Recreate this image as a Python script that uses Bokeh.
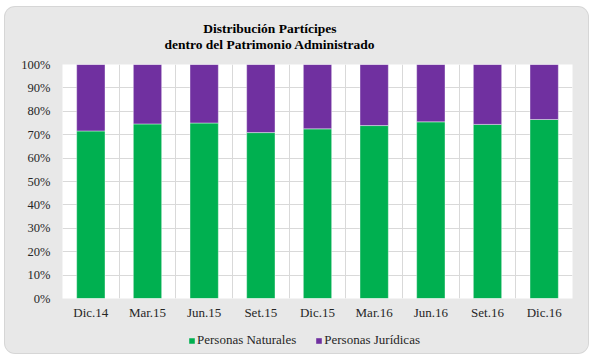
import numpy as np
from bokeh.plotting import figure
from bokeh.layouts import column
from bokeh.models import (Range1d, FixedTicker, NumeralTickFormatter, Label,
                          Legend, LegendItem, ColumnDataSource)
from bokeh.embed import file_html
from bokeh.resources import INLINE

categories = ["Dic.14", "Mar.15", "Jun.15", "Set.15", "Dic.15",
              "Mar.16", "Jun.16", "Set.16", "Dic.16"]
naturales = [71.6, 74.6, 75.0, 70.9, 72.5, 73.9, 75.5, 74.4, 76.5]
juridicas = [28.4, 25.4, 25.0, 29.1, 27.5, 26.1, 24.5, 25.6, 23.5]
series_names = ["Personas Naturales", "Personas Jurídicas"]
title_lines = ["Distribución Partícipes", "dentro del Patrimonio Administrado"]

GREEN = "#00b050"
PURPLE = "#7030a0"
PANEL = "#e8e8e8"
GRID = "#d9d9d9"
FONT = "Liberation Serif"

n = len(categories)
xs = np.arange(n) + 0.5
source = ColumnDataSource(dict(
    x=xs,
    nat=np.array(naturales) / 100.0,
    jur=np.array(juridicas) / 100.0,
))

W = 583

# ---- title strip ----
pt = figure(width=W, height=49, output_backend="svg", toolbar_location=None,
            x_range=Range1d(0, W), y_range=Range1d(0, 49),
            x_axis_location=None, y_axis_location=None,
            min_border=0, title=None, border_fill_color=PANEL,
            background_fill_color=PANEL, outline_line_color=None, margin=0)
pt.grid.visible = False
for i, t in enumerate(title_lines):
    pt.add_layout(Label(x=237, y=28 - 16 * i, text=t,
                        text_align="center", text_baseline="middle",
                        text_font=FONT, text_font_style="bold",
                        text_font_size="13.5px", text_color="#000000"))

# ---- main chart ----
p = figure(width=W, height=271, output_backend="svg", toolbar_location=None,
           x_range=Range1d(0, n), y_range=Range1d(0, 1),
           min_border_left=57, min_border_right=16, min_border_top=8,
           min_border_bottom=29, title=None,
           border_fill_color=PANEL, background_fill_color="white",
           outline_line_color=None, margin=0)

renderers = p.vbar_stack(["nat", "jur"], x="x", width=0.5, source=source,
                         color=[GREEN, PURPLE], line_color="white",
                         line_alpha=0.5, line_width=0.8)

p.yaxis.ticker = FixedTicker(ticks=[i / 10 for i in range(11)])
p.yaxis.formatter = NumeralTickFormatter(format="0%")
p.xaxis.ticker = FixedTicker(ticks=list(xs))
p.xaxis.major_label_overrides = {float(x): c for x, c in zip(xs, categories)}
for ax in (p.xaxis[0], p.yaxis[0]):
    ax.axis_line_color = None
    ax.major_tick_line_color = None
    ax.minor_tick_line_color = None
    ax.major_tick_out = 0
    ax.major_tick_in = 0
    ax.major_label_text_font = FONT
    ax.major_label_text_color = "#262626"
p.xaxis.major_label_text_font_size = "13px"
p.yaxis.major_label_text_font_size = "12.5px"
p.xaxis.major_label_standoff = 6
p.yaxis.major_label_standoff = 12

p.ygrid.ticker = FixedTicker(ticks=[i / 10 for i in range(11)])
p.ygrid.grid_line_color = GRID
p.xgrid.ticker = FixedTicker(ticks=list(range(0, n + 1)))
p.xgrid.grid_line_color = GRID

# ---- legend strip (same series and colours) ----
pl = figure(width=W, height=26, output_backend="svg", toolbar_location=None,
            x_range=Range1d(0, n), y_range=Range1d(5, 6),
            x_axis_location=None, y_axis_location=None,
            min_border=0, title=None, border_fill_color=PANEL,
            background_fill_color=PANEL, outline_line_color=None, margin=0)
pl.grid.visible = False
leg_r = pl.vbar_stack(["nat", "jur"], x="x", width=0.5, source=source,
                      color=[GREEN, PURPLE], line_color=None)
legend = Legend(items=[LegendItem(label=series_names[i], renderers=[leg_r[i]])
                       for i in range(2)],
                orientation="horizontal", location=(126, 5),
                glyph_width=7, glyph_height=7, label_standoff=2, spacing=19,
                padding=0, margin=0, label_height=14,
                border_line_color=None, background_fill_alpha=0,
                label_text_font=FONT, label_text_font_size="13px",
                label_text_color="#262626")
pl.add_layout(legend)

layout = column(pt, p, pl, spacing=0, margin=(7, 0, 0, 5),
                styles={"border-radius": "10px", "overflow": "hidden",
                        "background-color": PANEL,
                        "box-shadow": "0 0 0 1px #d6d6d6"})

open("out.html", "w").write(file_html(layout, INLINE))
